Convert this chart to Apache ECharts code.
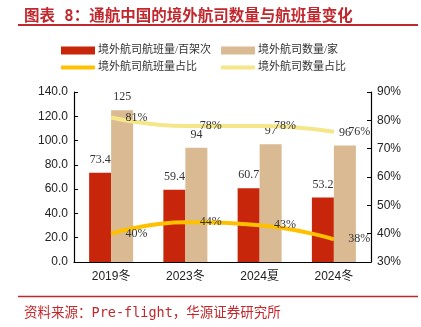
<!DOCTYPE html>
<html><head><meta charset="utf-8">
<script src="https://cdn.jsdelivr.net/npm/echarts@6/dist/echarts.min.js"></script>
<style>html,body{margin:0;padding:0;background:#fff;}#c{width:421px;height:327px;}</style>
</head><body><div id="c"></div>
<script>
const categories = ['2019冬', '2023冬', '2024夏', '2024冬'];
const flightVolume = [73.4, 59.4, 60.7, 53.2];      // 境外航司航班量/百架次
const airlineCount = [125, 94, 97, 96];              // 境外航司数量/家
const flightShare = [40, 44, 43, 38];                // 境外航司航班量占比 (%)
const countShare = [81, 78, 78, 76];                 // 境外航司数量占比 (%)
const leftTicks = { min: 0, max: 140, interval: 20 };
const rightTicks = { min: 30, max: 90, interval: 10 };

const names = ['境外航司航班量/百架次', '境外航司数量/家', '境外航司航班量占比', '境外航司数量占比'];
const colors = ['#C8260A', '#D9BA92', '#FFC000', '#F6E68A'];
const serif = '"Liberation Serif","Times New Roman","Noto Sans CJK SC",serif';
const sans = '"Liberation Sans",Arial,"Noto Sans CJK SC",sans-serif';
const legendFont = '"Liberation Serif","Noto Sans CJK SC",serif';

const chart = echarts.init(document.getElementById('c'), null, { renderer: 'canvas' });

function leg(name, left, top, isLine, color) {
  return {
    left: left, top: top,
    data: [{ name: name, icon: isLine ? 'roundRect' : 'rect', itemStyle: { color: color, opacity: 1 } }],
    itemWidth: 34, itemHeight: isLine ? 4 : 8, itemGap: 0,
    textStyle: { fontFamily: legendFont, fontSize: 11, color: '#333', padding: [0, 0, 0, -2] },
    selectedMode: false, padding: 0
  };
}

chart.setOption({
  animation: false,
  color: colors,
  title: [
    { text: '图表 8：通航中国的境外航司数量与航班量变化', left: 19, top: 4,
      textStyle: { fontSize: 15.5, fontWeight: 'bold', color: '#C0282D', fontFamily: '"DejaVu Sans Mono","Noto Sans CJK SC",monospace' } },
    { text: '资料来源：Pre-flight，华源证券研究所', left: 19, top: 302,
      textStyle: { fontSize: 13.5, fontWeight: 'normal', color: '#C0282D', fontFamily: '"DejaVu Sans Mono","Noto Sans CJK SC",monospace' } }
  ],
  graphic: [
    { type: 'line', shape: { x1: 18, y1: 25, x2: 418, y2: 25 }, style: { stroke: '#C0282D', lineWidth: 2 } },
    { type: 'line', shape: { x1: 18, y1: 296.5, x2: 418, y2: 296.5 }, style: { stroke: '#C0282D', lineWidth: 1.5 } }
  ],
  legend: [
    leg(names[0], 61, 45, false, colors[0]),
    leg(names[1], 221, 45, false, colors[1]),
    leg(names[2], 61, 62, true, colors[2]),
    leg(names[3], 221, 62, true, colors[3])
  ],
  grid: { left: 74, right: 50, top: 92, bottom: 65 },
  xAxis: {
    type: 'category', data: categories,
    axisLine: { lineStyle: { color: '#000', width: 1.2 } },
    axisTick: { show: false },
    axisLabel: { fontSize: 12, color: '#222', fontFamily: sans, margin: 9 }
  },
  yAxis: [
    { type: 'value', min: leftTicks.min, max: leftTicks.max, interval: leftTicks.interval,
      splitLine: { show: false },
      axisLine: { show: true, lineStyle: { color: '#000', width: 1.2 } },
      axisTick: { show: true, inside: true, length: 4, lineStyle: { color: '#000' } },
      axisLabel: { fontSize: 12, color: '#222', fontFamily: sans, margin: 6, formatter: v => v.toFixed(1) } },
    { type: 'value', min: rightTicks.min, max: rightTicks.max, interval: rightTicks.interval,
      splitLine: { show: false },
      axisLine: { show: true, lineStyle: { color: '#000', width: 1.2 } },
      axisTick: { show: true, inside: true, length: 4, lineStyle: { color: '#000' } },
      axisLabel: { fontSize: 12, color: '#222', fontFamily: sans, margin: 6, formatter: '{value}%' } }
  ],
  series: [
    { name: names[0], type: 'bar', data: flightVolume, barWidth: 22, barGap: '0%',
      itemStyle: { color: colors[0] },
      label: { show: true, position: 'top', distance: 7, fontSize: 12, color: '#333', fontFamily: serif } },
    { name: names[1], type: 'bar', data: airlineCount, barWidth: 22,
      itemStyle: { color: colors[1] },
      label: { show: true, position: 'top', distance: 7, fontSize: 12, color: '#333', fontFamily: serif } },
    { name: names[2], type: 'line', yAxisIndex: 1, data: flightShare, smooth: true,
      symbol: 'circle', symbolSize: 0.5, showSymbol: true,
      lineStyle: { color: colors[2], width: 4 }, itemStyle: { color: colors[2] },
      label: { show: true, position: 'right', distance: 14, fontSize: 12, color: '#333', fontFamily: serif, formatter: '{c}%' } },
    { name: names[3], type: 'line', yAxisIndex: 1, data: countShare, smooth: true,
      symbol: 'circle', symbolSize: 0.5, showSymbol: true,
      lineStyle: { color: colors[3], width: 4 }, itemStyle: { color: colors[3] },
      label: { show: true, position: 'right', distance: 14, fontSize: 12, color: '#333', fontFamily: serif, formatter: '{c}%' } }
  ]
});
</script></body></html>
